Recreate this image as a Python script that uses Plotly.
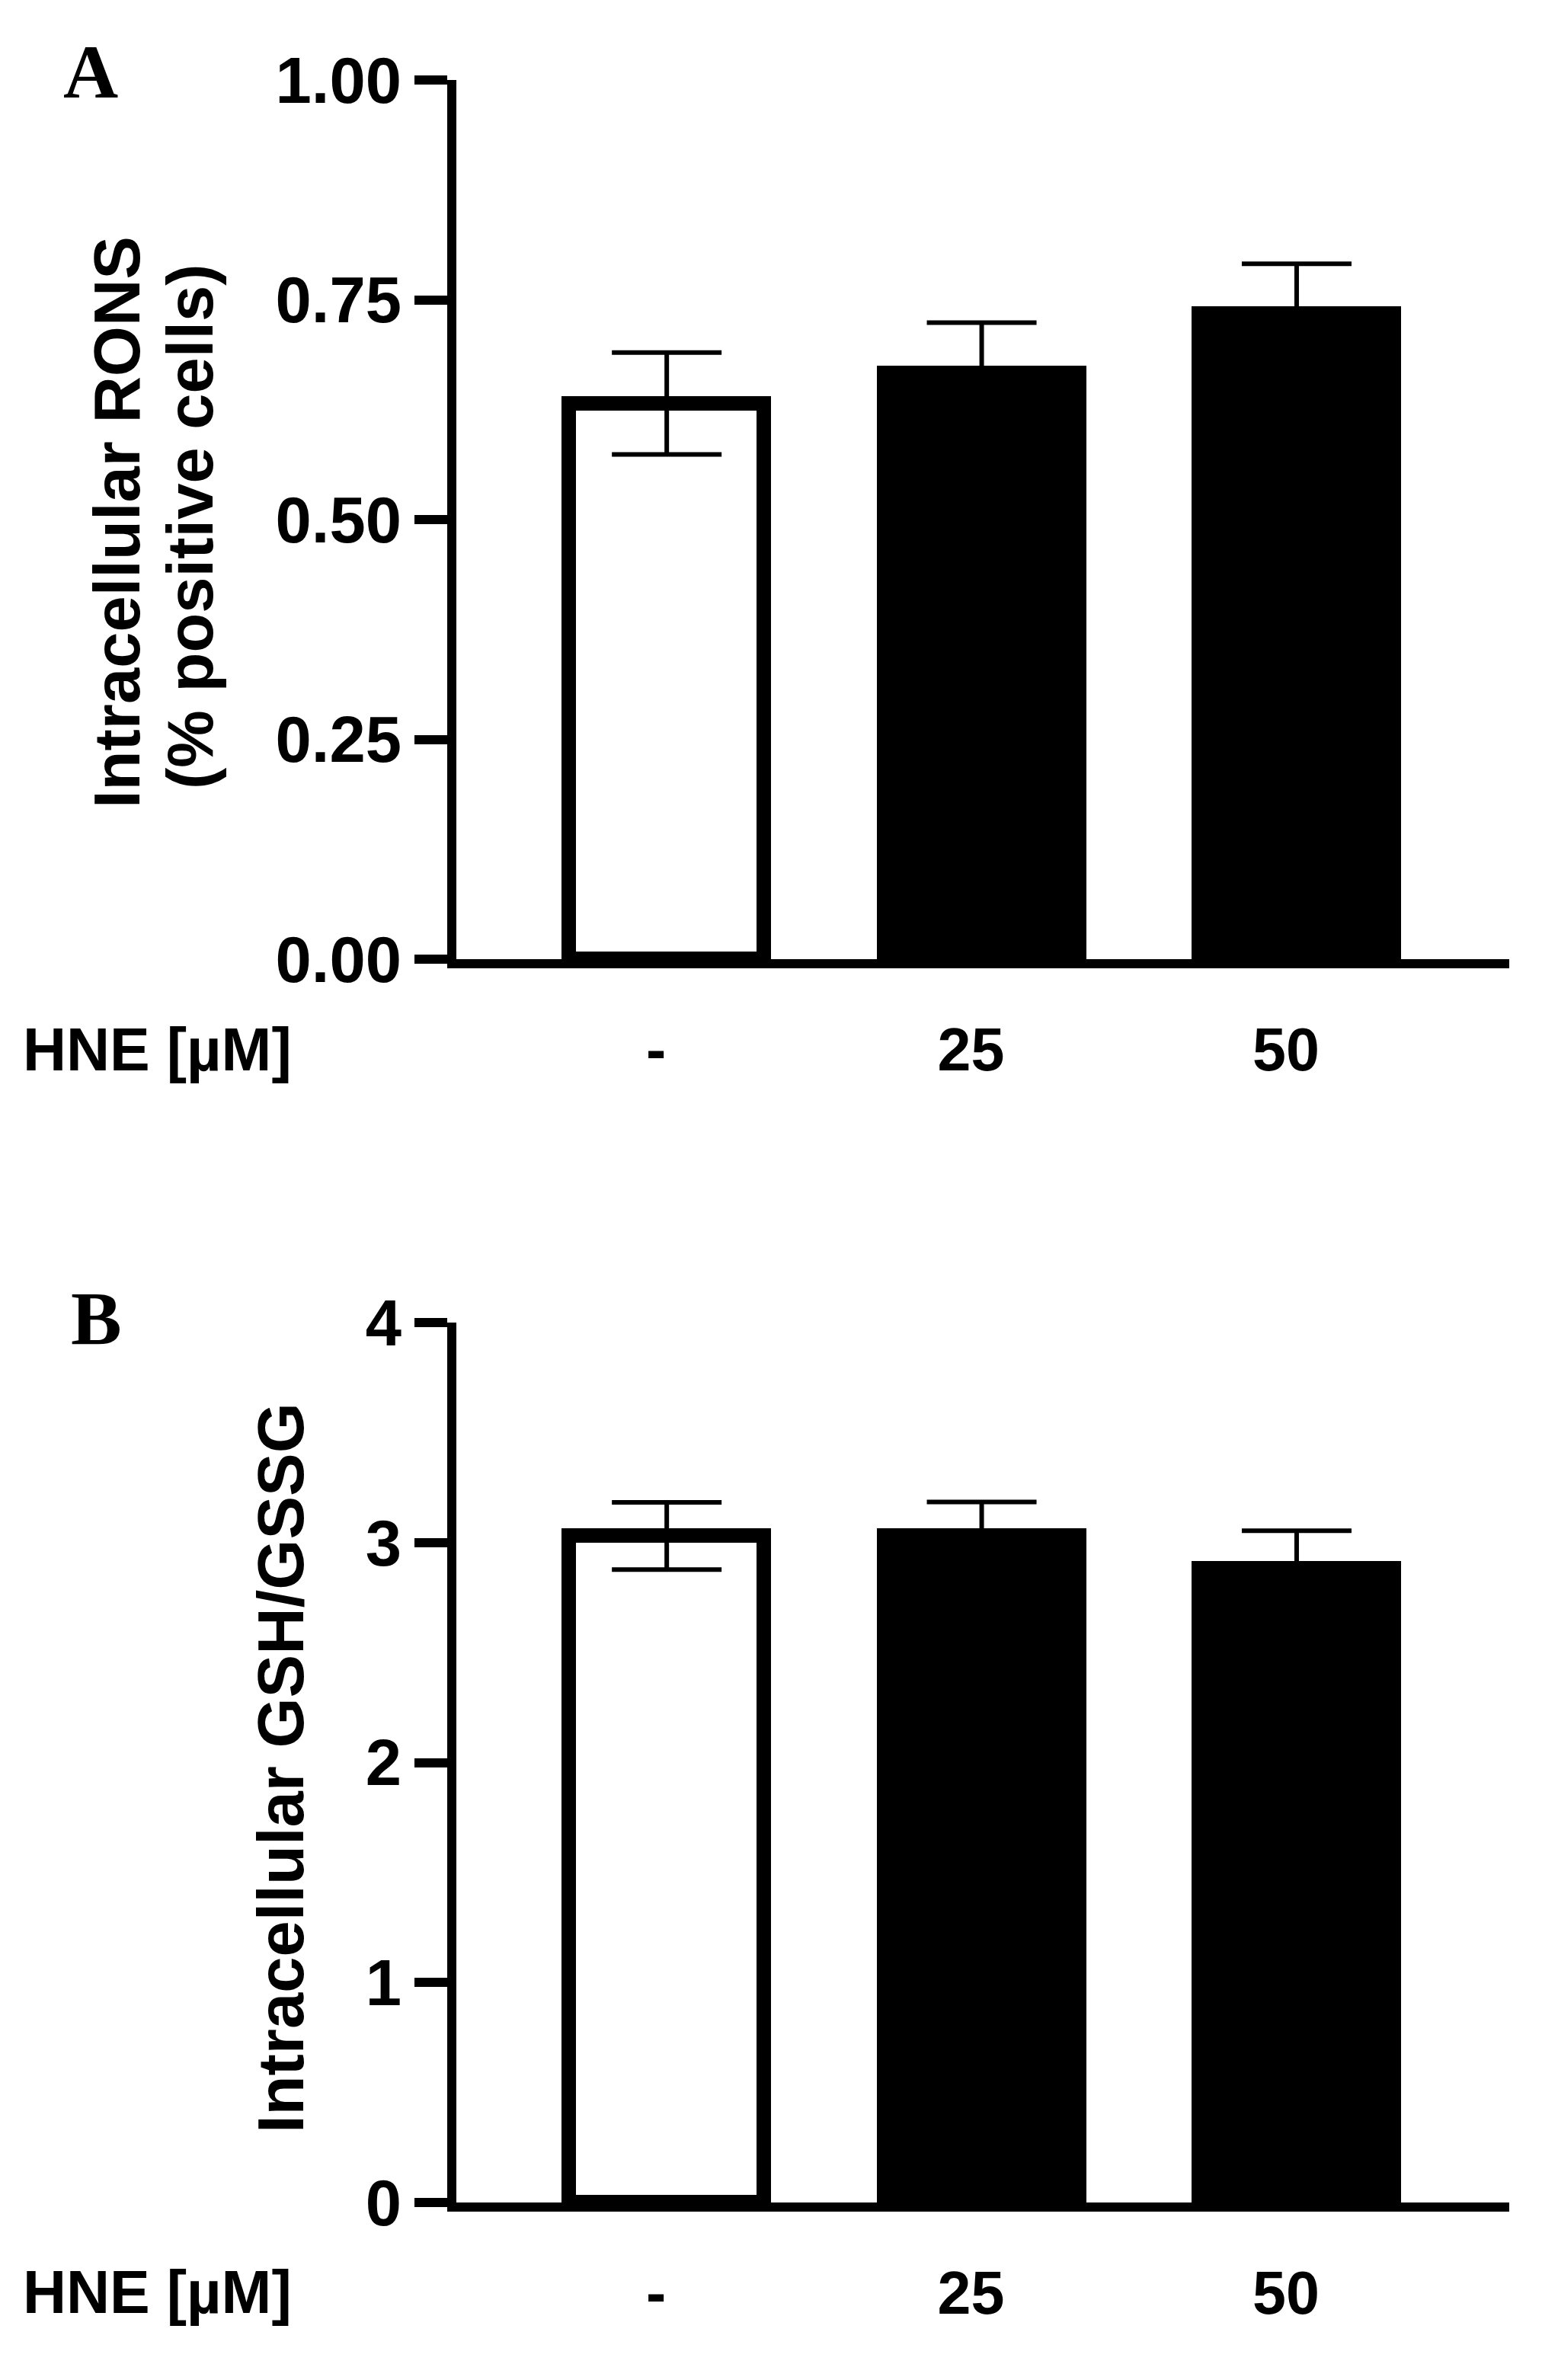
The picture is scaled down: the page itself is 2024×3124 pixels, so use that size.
import plotly.graph_objects as go

# ---------------- data ----------------
categories = ["-", "25", "50"]
positions = [0, 1, 2]
rons_mean = [0.632, 0.666, 0.734]
rons_sem = [0.058, 0.058, 0.057]
gsh_mean = [3.03, 3.03, 2.88]
gsh_sem = [0.153, 0.154, 0.174]
bar_fill = ["#ffffff", "#000000", "#000000"]
rons_tickvals = [0, 0.25, 0.5, 0.75, 1.0]
rons_ticktext = ["0.00", "0.25", "0.50", "0.75", "1.00"]
gsh_tickvals = [0, 1, 2, 3, 4]
gsh_ticktext = ["0", "1", "2", "3", "4"]
rons_title_lines = ["Intracellular RONS", "(% positive cells)"]
gsh_title = "Intracellular GSH/GSSG"
x_title = "HNE [µM]"

# ---------------- layout helpers ----------------
W, H = 2024, 3124
def px(p):
    return p / W
def py(p):
    return 1 - p / H

FONT = "Liberation Sans"
FS = 85
XFS = 79

fig = go.Figure()

for i, (means, sems) in enumerate([(rons_mean, rons_sem), (gsh_mean, gsh_sem)]):
    xa = "x" if i == 0 else "x2"
    ya = "y" if i == 0 else "y2"
    fig.add_trace(go.Bar(
        x=positions, y=means,
        width=0.619,
        marker=dict(color=bar_fill, line=dict(color="black", width=19)),
        error_y=dict(type="data", array=sems, visible=True,
                     color="black", thickness=6, width=72),
        xaxis=xa, yaxis=ya, showlegend=False,
    ))

xcommon = dict(
    domain=[px(591), px(1973)], range=[-0.668, 2.675],
    tickmode="array", tickvals=positions, ticktext=categories,
    showline=True, linewidth=12, linecolor="black",
    ticks="outside", ticklen=39, tickwidth=1, tickcolor="rgba(0,0,0,0)",
    ticklabelshift=-14,
    tickfont=dict(family=FONT, size=XFS, color="black", weight="bold"),
    showgrid=False, zeroline=False, automargin=False, fixedrange=True,
)
ycommon = dict(
    showline=True, linewidth=12, linecolor="black",
    ticks="outside", ticklen=43, tickwidth=12, tickcolor="black",
    tickfont=dict(family=FONT, size=FS, color="black", weight="bold"),
    showgrid=False, zeroline=False, automargin=False, fixedrange=True,
)

fig.update_layout(
    width=W, height=H,
    margin=dict(l=0, r=0, t=0, b=0),
    paper_bgcolor="white", plot_bgcolor="white",
    bargap=0,
    xaxis=dict(xcommon, anchor="y"),
    xaxis2=dict(xcommon, anchor="y2"),
    yaxis=dict(ycommon, anchor="x", domain=[py(1251), py(97)], range=[0, 1],
               tickmode="array", tickvals=rons_tickvals, ticktext=rons_ticktext),
    yaxis2=dict(ycommon, anchor="x2", domain=[py(2883), py(1728)], range=[0, 4],
                tickmode="array", tickvals=gsh_tickvals, ticktext=gsh_ticktext),
)

ann_font = dict(family=FONT, size=FS, color="black", weight="bold")
x_font = dict(family=FONT, size=XFS, color="black", weight="bold")
letter_font = dict(family="Liberation Serif", size=100, color="black", weight="bold")
annotations = [
    dict(text="A", x=px(111), y=py(87), xref="paper", yref="paper",
         showarrow=False, xanchor="center", yanchor="middle", font=letter_font),
    dict(text="B", x=px(118), y=py(1722), xref="paper", yref="paper",
         showarrow=False, xanchor="center", yanchor="middle", font=letter_font),
    dict(text=rons_title_lines[0], x=px(145), y=py(678), xref="paper", yref="paper",
         showarrow=False, textangle=-90, xanchor="center", yanchor="middle",
         font=ann_font),
    dict(text=rons_title_lines[1], x=px(241), y=py(683), xref="paper", yref="paper",
         showarrow=False, textangle=-90, xanchor="center", yanchor="middle",
         font=ann_font),
    dict(text=gsh_title, x=px(360), y=py(2313), xref="paper", yref="paper",
         showarrow=False, textangle=-90, xanchor="center", yanchor="middle",
         font=ann_font),
    dict(text=x_title, x=px(20), y=py(1369), xref="paper", yref="paper",
         showarrow=False, xanchor="left", yanchor="middle", font=x_font),
    dict(text=x_title, x=px(20), y=py(3000), xref="paper", yref="paper",
         showarrow=False, xanchor="left", yanchor="middle", font=x_font),
]
fig.update_layout(annotations=annotations)

fig.write_html("out.html")
